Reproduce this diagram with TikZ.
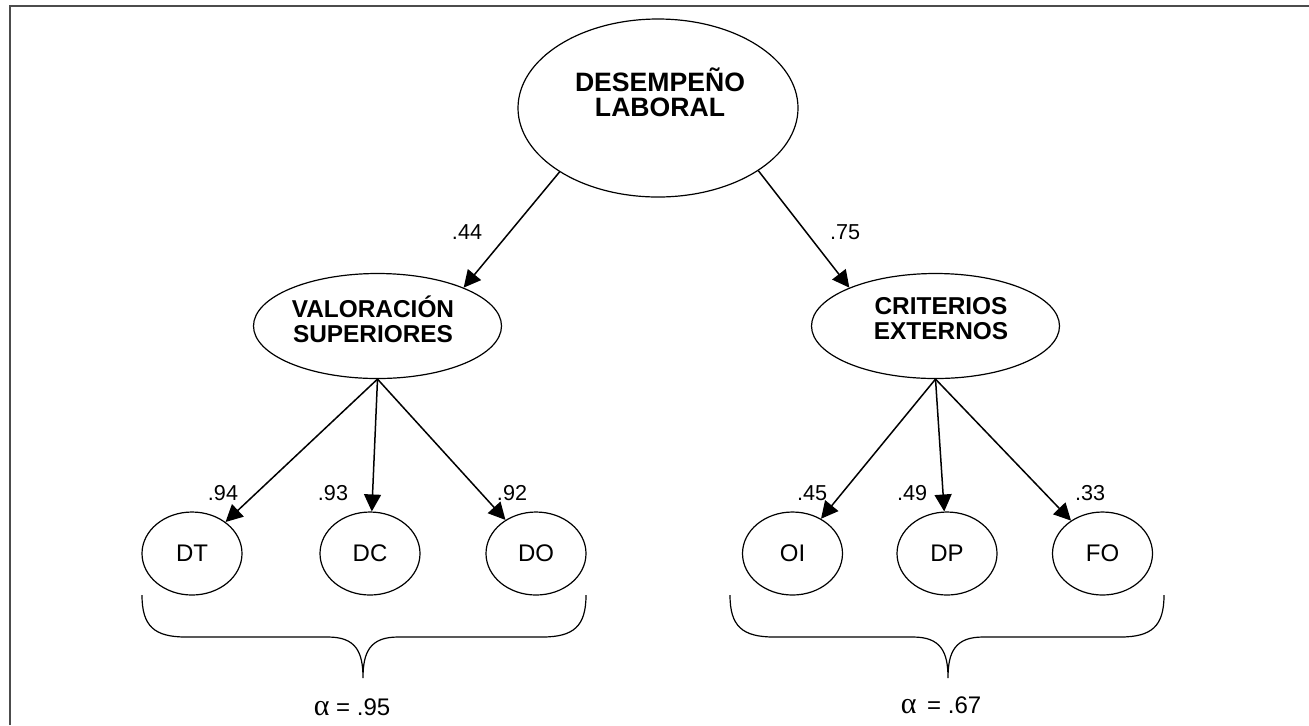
\documentclass[tikz,border=0pt]{standalone}
\usepackage{fontspec}
\setmainfont{Liberation Sans}
\newfontfamily\greekfont{Liberation Serif}
\usetikzlibrary{shapes.geometric,arrows.meta}
\begin{document}
\begin{tikzpicture}[x=0.5pt,y=-0.5pt,
  lat/.style={ellipse,draw,line width=0.6pt,inner sep=0pt},
  toplat/.style={lat,minimum width=140pt,minimum height=89pt},
  midlat/.style={lat,minimum width=124pt,minimum height=52.5pt},
  obs/.style={lat,minimum width=50pt,minimum height=41.5pt,font=\fontsize{12}{14}\selectfont},
  bigtext/.style={align=center,font=\fontsize{12.2}{12.5}\selectfont\bfseries,inner sep=0pt},
  toptext/.style={align=center,font=\fontsize{13.3}{12.5}\selectfont\bfseries,inner sep=0pt},
  coef/.style={font=\fontsize{10.8}{12}\selectfont,inner sep=0pt},
  alphalab/.style={font=\fontsize{12}{13}\selectfont,inner sep=0pt},
  arr/.style={-{Triangle[length=8.5pt,width=8.5pt]},line width=0.75pt},
  brace/.style={line width=0.6pt}
]
\useasboundingbox (0,0) rectangle (1309,725);
\fill[white] (0,0) rectangle (1309,725);
% frame
\draw[line width=1pt,color=black!70] (9.5,725) -- (9.5,6) -- (1309,6);

% latent variables
\node[toplat] (dl) at (658,108) {};
\node[toptext] (dlt) at (660,92) {DESEMPEÑO\\LABORAL};
\node[midlat] (vs) at (377.5,326) {};
\node[bigtext] (vst) at (373,319) {VALORACIÓN\\SUPERIORES};
\node[midlat] (ce) at (935.5,326) {};
\node[bigtext] (cet) at (941,319) {CRITERIOS\\EXTERNOS};

% observed
\node[obs] (dt) at (192,553.5) {DT};
\node[obs] (dc) at (370,553.5) {DC};
\node[obs] (do) at (536,553.5) {DO};
\node[obs] (oi) at (792.5,553.5) {OI};
\node[obs] (dp) at (947,553.5) {DP};
\node[obs] (fo) at (1102.5,553.5) {FO};

% arrows
\draw[arr] (dl.213) -- (vs.24);
\draw[arr] (dl.-32) -- (ce.156);
\draw[arr] (vs.south) -- (dt);
\draw[arr] (vs.south) -- (dc);
\draw[arr] (vs.south) -- (do);
\draw[arr] (ce.south) -- (oi);
\draw[arr] (ce.south) -- (dp);
\draw[arr] (ce.south) -- (fo);

% coefficients
\node[coef] (c44) at (467,232) {.44};
\node[coef] (c75) at (845,232) {.75};
\node[coef] (c94) at (223,493) {.94};
\node[coef] (c93) at (333,493) {.93};
\node[coef] (c92) at (512,493) {.92};
\node[coef] (c45) at (812,493) {.45};
\node[coef] (c49) at (912,493) {.49};
\node[coef] (c33) at (1090,493) {.33};

% braces
\draw[brace] (142,595) .. controls (142,626) and (154,637) .. (186,637)
  -- (328,637) .. controls (356,637) and (363,652) .. (363,678)
  .. controls (363,652) and (370,637) .. (398,637)
  -- (542,637) .. controls (574,637) and (586,626) .. (586,595);
\draw[brace] (730,595) .. controls (730,626) and (742,637) .. (774,637)
  -- (913,637) .. controls (941,637) and (948,652) .. (948,678)
  .. controls (948,652) and (955,637) .. (983,637)
  -- (1120,637) .. controls (1152,637) and (1164,626) .. (1164,595);

% reliabilities
\node[alphalab] (a1) at (352,707) {{\greekfont\fontsize{15}{15}\selectfont α} = .95};
\node[alphalab] (a2) at (941,705) {{\greekfont\fontsize{15}{15}\selectfont α} \,= .67};
\end{tikzpicture}
\end{document}
